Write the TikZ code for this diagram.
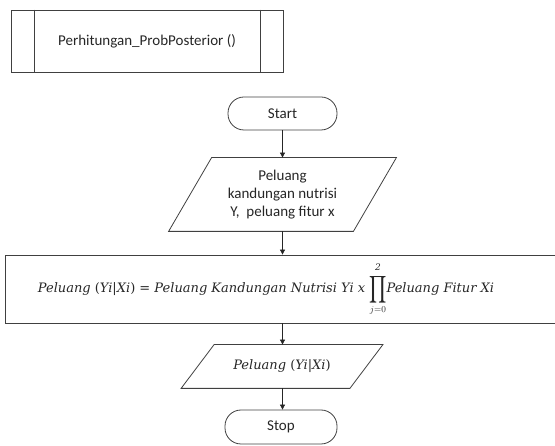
\documentclass[tikz,border=0pt]{standalone}
\usepackage{fontspec}
\usepackage{graphicx}
\setmainfont{Carlito}
\newfontfamily\eqfont{DejaVu Serif}
\usetikzlibrary{arrows.meta}
\newcommand{\up}[1]{{\upshape #1}}
\newcommand{\bigprod}{\ensuremath{\mathop{\vcenter{\hbox{\scalebox{1.35}[1.9]{$\displaystyle\prod$}}}}\limits_{\raisebox{-2pt}{\fontsize{9}{10}\selectfont$j{=}0$}}^{\raisebox{2pt}{\fontsize{9}{10}\selectfont 2}}}}
\begin{document}
\begin{tikzpicture}[x=1pt,y=-1pt,
  line width=0.8pt,
  every node/.style={font=\fontsize{15}{18}\selectfont, text=black!85},
  mathtext/.style={font=\eqfont\itshape\fontsize{13}{16}\selectfont, text=black!85},
  shapeline/.style={draw=black!75, line width=0.8pt},
  terminal/.style={shapeline, rounded corners=16pt, inner sep=0pt},
  iobox/.style={inner sep=0pt, align=center},
  procbox/.style={shapeline, inner sep=0pt},
  flow/.style={draw=black!85, line width=0.8pt, -{Triangle[length=5pt,width=5pt]}}
]
\useasboundingbox (0,0) rectangle (555,446);
\clip (0,0) rectangle (555,446);

% predefined-process header
\node[shapeline, minimum width=272pt, minimum height=62pt, inner sep=0pt] (sub) at (147,41) {Perhitungan\_ProbPosterior ()};
\draw[shapeline] ([xshift=24pt]sub.north west) -- ([xshift=24pt]sub.south west);
\draw[shapeline] ([xshift=-23pt]sub.north east) -- ([xshift=-23pt]sub.south east);

% start
\node[terminal, minimum width=109pt, minimum height=33pt] (start) at (282.5,113.5) {Start};

% input
\node[iobox, minimum width=184pt, minimum height=73pt] (in) at (282.5,194.5)
  {Peluang\\kandungan nutrisi\\Y,\ \ peluang fitur x};
\draw[shapeline] ([xshift=21.5pt]in.north west) -- ([xshift=21.5pt]in.north east)
  -- ([xshift=-21.5pt]in.south east) -- ([xshift=-21.5pt]in.south west) -- cycle;

% process
\node[procbox, minimum width=560pt, minimum height=68pt] (proc) at (285,289) {};
\node[mathtext, inner sep=0pt] (eq) at (266,289)
  {Peluang \up{(}Yi\up{|}Xi\up{)} \up{=} Peluang Kandungan Nutrisi Yi x
   $\displaystyle\bigprod$Peluang Fitur Xi};

% output
\node[iobox, mathtext, minimum width=168pt, minimum height=43pt] (out) at (282,366.5)
  {Peluang \up{(}Yi\up{|}Xi\up{)}};
\draw[shapeline] ([xshift=16.5pt]out.north west) -- ([xshift=16.5pt]out.north east)
  -- ([xshift=-16.5pt]out.south east) -- ([xshift=-16.5pt]out.south west) -- cycle;

% stop
\node[terminal, minimum width=112pt, minimum height=34pt] (stop) at (281,427) {Stop};

% connectors
\draw[flow] (start.south) -- (start.south |- in.north);
\draw[flow] (start.south |- in.south) -- (start.south |- proc.north);
\draw[flow] (start.south |- proc.south) -- (start.south |- out.north);
\draw[flow] (start.south |- out.south) -- (start.south |- stop.north);
\end{tikzpicture}
\end{document}
